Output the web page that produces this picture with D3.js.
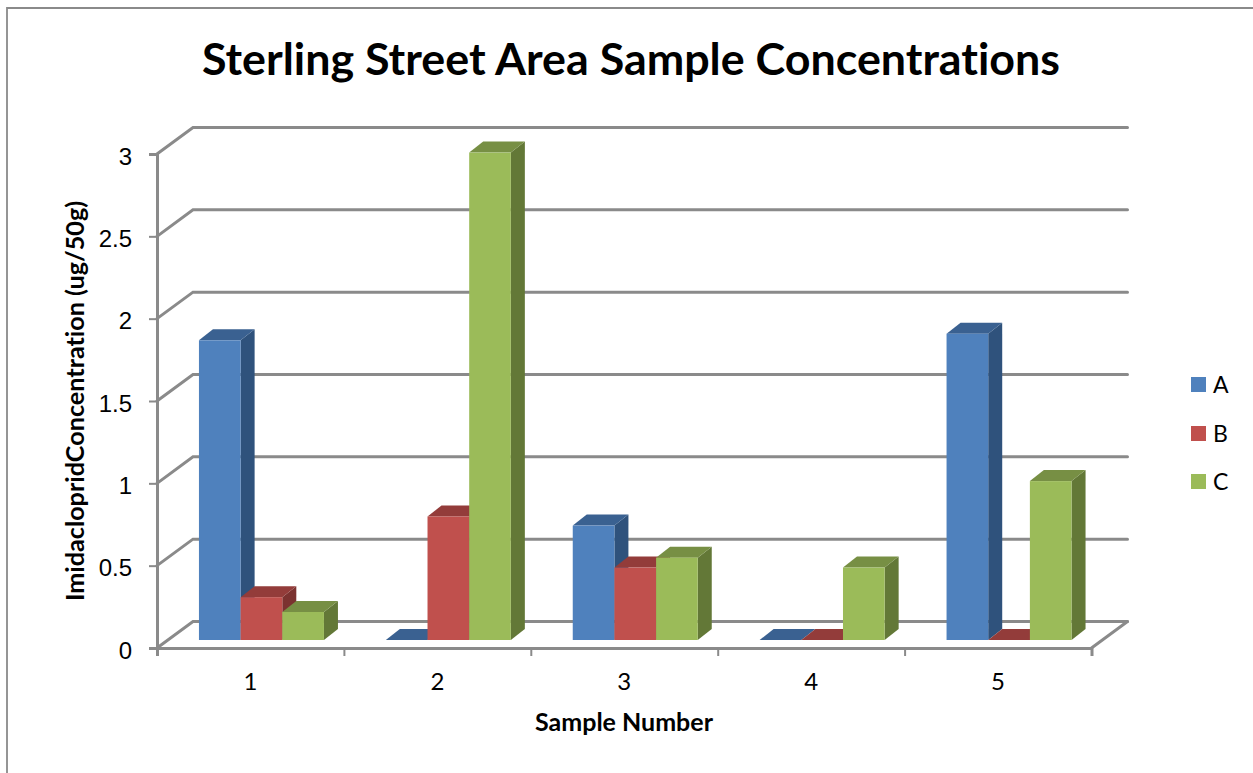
<!DOCTYPE html>
<html>
<head>
<meta charset="utf-8">
<script src="https://cdn.jsdelivr.net/npm/d3@7"></script>
<style>
  html, body { margin: 0; padding: 0; background: #fff; }
  svg { display: block; font-family: Lato, "Open Sans", sans-serif; font-variant-ligatures: none; }
</style>
</head>
<body>
<div id="chart"></div>
<script>
const categories = ['1', '2', '3', '4', '5'];
const seriesNames = ['A', 'B', 'C'];
const valuesA = [1.82, 0, 0.695, 0, 1.86];
const valuesB = [0.26, 0.75, 0.44, 0, 0];
const valuesC = [0.17, 2.96, 0.50, 0.44, 0.965];
const yTicks = [0, 0.5, 1, 1.5, 2, 2.5, 3];

const titleText = 'Sterling Street Area Sample Concentrations';
const xTitle = 'Sample Number';
const yTitle = 'ImidaclopridConcentration (ug/50g)';

const width = 1253;
const height = 773;

// face colours per series: front, side, top
const colors = {
  A: { front: '#4f81bd', side: '#2f527c', top: '#3a6191' },
  B: { front: '#c0504d', side: '#7b3230', top: '#933c3a' },
  C: { front: '#9bbb59', side: '#637837', top: '#778f44' }
};

const svg = d3.select('#chart').append('svg')
  .attr('width', width)
  .attr('height', height);

svg.append('rect').attr('width', width).attr('height', height).attr('fill', '#fff');

// chart frame, cut by the picture on the right and at the bottom
svg.append('path')
  .attr('d', 'M7,773V8H1253')
  .attr('fill', 'none')
  .attr('stroke', '#8a8a8a')
  .attr('stroke-width', 1.8);

// *** scales *** //
const x = d3.scaleBand().domain(categories).range([157, 1091.5]);
const y = d3.scaleLinear().domain([0, 3]).range([648, 154]);
const inner = d3.scaleBand().domain(seriesNames).range([0, 125]);

// wall depth and bar offsets in the fake 3d
const wallDx = 36, wallDy = -26.5;
const barDx = 11, barDy = -8;
const depthDx = 14, depthDy = -11;

const gridColor = '#8a8a8a';
const gridWidth = 3;

// *** walls and gridlines *** //
const grid = svg.append('g')
  .attr('fill', 'none')
  .attr('stroke', gridColor)
  .attr('stroke-width', gridWidth)
  .attr('stroke-linecap', 'round');
grid.selectAll('path')
  .data(yTicks)
  .join('path')
  .attr('d', d => `M${x.range()[0]},${y(d)}l${wallDx},${wallDy}H${x.range()[1] + wallDx}`);

// floor front right corner
grid.append('path')
  .attr('d', `M${x.range()[1]},${y(0)}l${wallDx},${wallDy}`);

// *** bars *** //
const bars = [];
categories.forEach((c, i) => {
  bars.push({ cat: c, name: 'A', value: valuesA[i] });
  bars.push({ cat: c, name: 'B', value: valuesB[i] });
  bars.push({ cat: c, name: 'C', value: valuesC[i] });
});

const barX = d => x(d.cat) + barDx + (x.bandwidth() - 125) / 2 + inner(d.name);
const base = y(0) + barDy;
const topY = d => y(d.value) + barDy;
const bw = inner.bandwidth();

const barG = svg.append('g').selectAll('g')
  .data(bars)
  .join('g');

barG.append('path')
  .attr('fill', d => colors[d.name].side)
  .attr('d', d => `M${barX(d) + bw},${base}V${topY(d)}l${depthDx},${depthDy}V${base + depthDy}Z`);
barG.append('path')
  .attr('fill', d => colors[d.name].top)
  .attr('d', d => `M${barX(d)},${topY(d)}h${bw}l${depthDx},${depthDy}h${-bw}Z`);
barG.append('rect')
  .attr('x', barX)
  .attr('y', topY)
  .attr('width', bw)
  .attr('height', d => base - topY(d))
  .attr('fill', d => colors[d.name].front);

// *** axes *** //
const yAxis = d3.axisLeft(y).tickValues(yTicks).tickSize(8).tickPadding(17).tickFormat(d3.format('~g'));
const yG = svg.append('g').attr('transform', `translate(${x.range()[0]},0)`).call(yAxis);

const xAxis = d3.axisBottom(d3.scaleLinear().domain([0, 5]).range(x.range()))
  .ticks(5).tickSize(8).tickFormat('');
const xG = svg.append('g').attr('transform', `translate(0,${y(0)})`).call(xAxis);

[yG, xG].forEach(g => {
  g.selectAll('path').attr('stroke', gridColor).attr('stroke-width', gridWidth);
  g.selectAll('line').attr('stroke', gridColor).attr('stroke-width', 2);
});
yG.selectAll('text').attr('font-size', 24).attr('fill', '#000').attr('dy', '0.42em');

svg.append('g').selectAll('text')
  .data(categories)
  .join('text')
  .attr('x', d => x(d) + x.bandwidth() / 2)
  .attr('y', 690)
  .attr('text-anchor', 'middle')
  .attr('font-size', 24)
  .text(d => d);

// *** titles *** //
svg.append('text')
  .attr('x', 631).attr('y', 75)
  .attr('text-anchor', 'middle')
  .attr('font-size', 44.8)
  .attr('font-weight', 'bold')
  .text(titleText);

svg.append('text')
  .attr('x', 624).attr('y', 731)
  .attr('text-anchor', 'middle')
  .attr('font-size', 25)
  .attr('font-weight', 'bold')
  .text(xTitle);

svg.append('text')
  .attr('transform', 'translate(84,401) rotate(-90)')
  .attr('text-anchor', 'middle')
  .attr('font-size', 25.2)
  .attr('font-weight', 'bold')
  .text(yTitle);

// *** legend *** //
const legend = svg.append('g').selectAll('g')
  .data(seriesNames)
  .join('g')
  .attr('transform', (d, i) => `translate(1191,${[377, 426, 474][i]})`);
legend.append('rect')
  .attr('width', 15).attr('height', 15)
  .attr('fill', d => colors[d].front);
legend.append('text')
  .attr('x', 22).attr('y', 16)
  .attr('font-size', 23)
  .text(d => d);
</script>
</body>
</html>
